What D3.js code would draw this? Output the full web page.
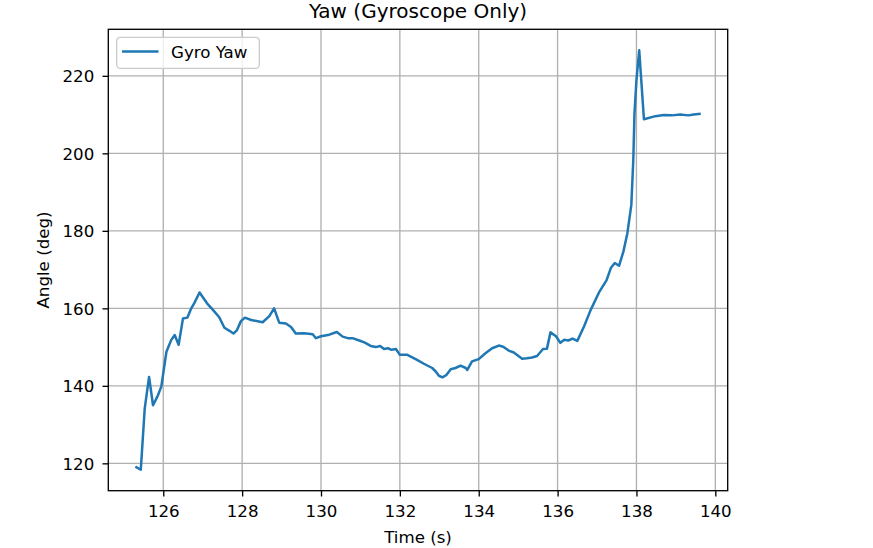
<!DOCTYPE html>
<html>
<head>
<meta charset="utf-8">
<script src="https://cdn.jsdelivr.net/npm/d3@7"></script>
<style>
  html, body { margin: 0; padding: 0; background: #fff; }
  svg { display: block; font-family: "DejaVu Sans", sans-serif; }
</style>
</head>
<body>
<svg id="chart" width="873" height="548"></svg>
<script>
const title = "Yaw (Gyroscope Only)";
const xLabel = "Time (s)";
const yLabel = "Angle (deg)";
const seriesName = "Gyro Yaw";

const time = [
  125.32, 125.43, 125.53, 125.64, 125.74, 125.85, 125.95, 126.08, 126.20, 126.29,
  126.39, 126.50, 126.61, 126.71, 126.79, 126.92, 127.11, 127.26, 127.42, 127.55,
  127.68, 127.78, 127.87, 127.97, 128.07, 128.23, 128.52, 128.69, 128.81, 128.94,
  129.11, 129.24, 129.36, 129.57, 129.79, 129.87, 130.00, 130.21, 130.40, 130.55,
  130.68, 130.80, 130.97, 131.10, 131.26, 131.39, 131.50, 131.60, 131.70, 131.79,
  131.90, 132.00, 132.19, 132.40, 132.61, 132.82, 132.91, 132.99, 133.08, 133.18,
  133.29, 133.41, 133.54, 133.67, 133.71, 133.83, 134.00, 134.17, 134.34, 134.51,
  134.62, 134.76, 134.89, 135.10, 135.22, 135.35, 135.48, 135.63, 135.73, 135.82,
  135.96, 136.07, 136.17, 136.27, 136.38, 136.50, 136.67, 136.84, 137.05, 137.24,
  137.35, 137.45, 137.56, 137.67, 137.77, 137.87, 137.92, 137.95, 138.00, 138.07,
  138.19, 138.48, 138.69, 138.90, 139.11, 139.32, 139.45, 139.60
];
const yaw = [
  119.0, 118.35, 134.2, 142.3, 135.0, 137.2, 139.8, 148.8, 151.8, 153.1,
  150.6, 157.4, 157.6, 160.0, 161.4, 164.1, 161.3, 159.6, 157.7, 155.0,
  154.2, 153.5, 154.4, 156.7, 157.6, 157.0, 156.4, 158.0, 160.0, 156.3,
  156.1, 155.2, 153.5, 153.6, 153.3, 152.3, 152.8, 153.2, 153.9, 152.7,
  152.3, 152.3, 151.7, 151.2, 150.3, 150.0, 150.3, 149.5, 149.7, 149.3,
  149.5, 148.0, 148.0, 146.9, 145.7, 144.6, 143.7, 142.6, 142.2, 142.8,
  144.3, 144.6, 145.2, 144.6, 144.1, 146.3, 146.9, 148.4, 149.7, 150.4,
  150.1, 149.1, 148.6, 147.0, 147.1, 147.3, 147.7, 149.5, 149.6, 153.8,
  152.8, 151.1, 151.9, 151.7, 152.2, 151.6, 155.3, 159.6, 164.1, 167.2,
  170.4, 171.7, 171.0, 174.7, 179.4, 186.7, 198.3, 210.3, 218.9, 226.6,
  208.8, 209.6, 209.9, 209.8, 210.0, 209.8, 210.0, 210.2
];
const xTicks = [126, 128, 130, 132, 134, 136, 138, 140];
const yTicks = [120, 140, 160, 180, 200, 220];

(function () {
const svg = d3.select("#chart");
const pL = 108.3, pR = 727.7, pT = 29.3, pB = 490.7;

function padded(ext) {
  const r = ext[1] - ext[0];
  return [ext[0] - 0.05 * r, ext[1] + 0.05 * r];
}
const x = d3.scaleLinear().domain(padded(d3.extent(time))).range([pL, pR]);
const y = d3.scaleLinear().domain(padded(d3.extent(yaw))).range([pB, pT]);

const fs = 16.67;

// grid
const grid = svg.append("g");
grid.selectAll("line.gx").data(xTicks).join("line").attr("class", "gx")
  .attr("x1", d => x(d)).attr("x2", d => x(d))
  .attr("y1", pT).attr("y2", pB)
  .attr("stroke", "#b0b0b0").attr("stroke-width", 1.33);
grid.selectAll("line.gy").data(yTicks).join("line").attr("class", "gy")
  .attr("y1", d => y(d)).attr("y2", d => y(d))
  .attr("x1", pL).attr("x2", pR)
  .attr("stroke", "#b0b0b0").attr("stroke-width", 1.33);

// line
const data = time.map((t, i) => [t, yaw[i]]);
svg.append("path")
  .datum(data)
  .attr("fill", "none")
  .attr("stroke", "#1f77b4")
  .attr("stroke-width", 2.5)
  .attr("stroke-linejoin", "round")
  .attr("stroke-linecap", "square")
  .attr("d", d3.line().x(d => x(d[0])).y(d => y(d[1])));

// axes
const xAxis = d3.axisBottom(x).tickValues(xTicks).tickSize(5.8).tickPadding(5.5).tickFormat(d3.format("d"));
const yAxis = d3.axisLeft(y).tickValues(yTicks).tickSize(5.8).tickPadding(5.5).tickFormat(d3.format("d"));
const gx = svg.append("g").attr("transform", `translate(0,${pB})`).call(xAxis);
const gy = svg.append("g").attr("transform", `translate(${pL},0)`).call(yAxis);
[gx, gy].forEach(g => {
  g.select(".domain").remove();
  g.selectAll(".tick line").attr("stroke", "#000").attr("stroke-width", 1.33);
  g.selectAll(".tick text").attr("fill", "#000")
    .style("font-family", "DejaVu Sans").style("font-size", fs + "px");
});
gx.selectAll(".tick text").attr("dy", null).attr("y", 26.5);
gy.selectAll(".tick text").attr("dy", null).attr("y", 6.1).attr("x", -14);

// spines
svg.append("rect")
  .attr("x", pL).attr("y", pT)
  .attr("width", pR - pL).attr("height", pB - pT)
  .attr("fill", "none").attr("stroke", "#000").attr("stroke-width", 1.33);

// title & labels
svg.append("text").attr("x", (pL + pR) / 2).attr("y", 17.8)
  .attr("text-anchor", "middle").style("font-size", "20px").attr("fill", "#000")
  .text(title);
svg.append("text").attr("x", (pL + pR) / 2).attr("y", 542.5)
  .attr("text-anchor", "middle").style("font-size", fs + "px").attr("fill", "#000")
  .text(xLabel);
svg.append("text")
  .attr("transform", `translate(49,${(pT + pB) / 2}) rotate(-90)`)
  .attr("text-anchor", "middle").style("font-size", fs + "px").attr("fill", "#000")
  .text(yLabel);

// legend
const lg = svg.append("g");
lg.append("rect")
  .attr("x", 116.7).attr("y", 37.3).attr("width", 142.6).attr("height", 31)
  .attr("rx", 3.5).attr("ry", 3.5)
  .attr("fill", "#fff").attr("fill-opacity", 0.8)
  .attr("stroke", "#cccccc").attr("stroke-width", 1.33);
lg.append("line")
  .attr("x1", 122).attr("x2", 158.5).attr("y1", 51.5).attr("y2", 51.5)
  .attr("stroke", "#1f77b4").attr("stroke-width", 2.5);
lg.append("text").attr("x", 171).attr("y", 57.6)
  .style("font-size", fs + "px").attr("fill", "#000")
  .text(seriesName);
})();
</script>
</body>
</html>
